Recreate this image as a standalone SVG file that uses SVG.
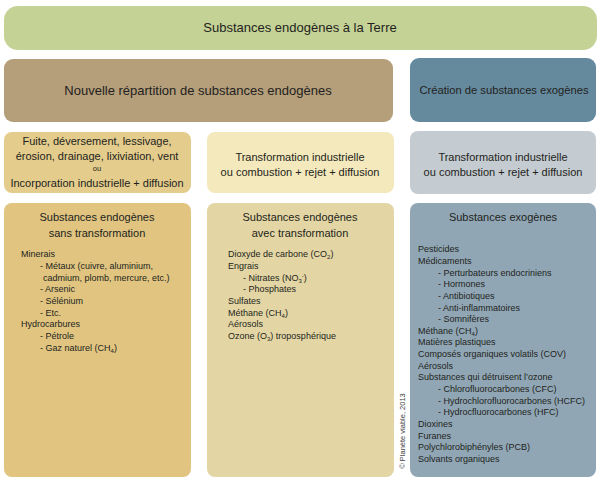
<svg xmlns="http://www.w3.org/2000/svg" width="600" height="483" viewBox="0 0 600 483">
<style>
text{font-family:"Liberation Sans",Arial,sans-serif;fill:#231f20}
.t{font-size:13px;text-anchor:middle}
.m{font-size:11px;text-anchor:middle}
.s{font-size:9px}
.sub{font-size:6px}
</style>
<rect width="600" height="483" fill="#ffffff"/>
<g id="top">
<rect x="4" y="6" width="593" height="44" rx="14" fill="#c5d296"/>
<text class="t" x="300" y="32">Substances endogènes à la Terre</text>
</g>
<g id="nouvelle">
<rect x="4" y="59" width="389" height="63" rx="9" fill="#b59e7a"/>
<text class="t" x="198" y="95">Nouvelle répartition de substances endogènes</text>
</g>
<g id="creation">
<rect x="410" y="58" width="186" height="64" rx="9" fill="#658a9e"/>
<text class="m" x="504" y="94" style="font-size:11.2px">Création de substances exogènes</text>
</g>
<g id="fuite">
<rect x="4" y="132" width="187" height="61" rx="8" fill="#e4cc8c"/>
<text class="m" x="97" y="145">Fuite, déversement, lessivage,</text>
<text class="m" x="97" y="160">érosion, drainage, lixiviation, vent</text>
<text class="m" x="97" y="171" style="font-size:7.5px">ou</text>
<text class="m" x="97" y="187">Incorporation industrielle + diffusion</text>
</g>
<g id="transfo1">
<rect x="207" y="132" width="187" height="61" rx="8" fill="#f4e9bc"/>
<text class="m" x="300" y="161">Transformation industrielle</text>
<text class="m" x="300" y="176">ou combustion + rejet + diffusion</text>
</g>
<g id="transfo2">
<rect x="410" y="131" width="186" height="63" rx="8" fill="#c4cbd1"/>
<text class="m" x="503" y="161">Transformation industrielle</text>
<text class="m" x="503" y="176">ou combustion + rejet + diffusion</text>
</g>
<g id="sans">
<rect x="4" y="203" width="187" height="274" rx="8" fill="#e0c480"/>
<text class="m" x="97" y="221">Substances endogènes</text>
<text class="m" x="97" y="237">sans transformation</text>
<text class="s" x="21" y="257">Minerais</text>
<text class="s" x="40" y="268.5">- Métaux (cuivre, aluminium,</text>
<text class="s" x="43" y="280.5">cadmium, plomb, mercure, etc.)</text>
<text class="s" x="40" y="292">- Arsenic</text>
<text class="s" x="40" y="303.5">- Sélénium</text>
<text class="s" x="40" y="315.5">- Etc.</text>
<text class="s" x="21" y="327">Hydrocarbures</text>
<text class="s" x="40" y="338.5">- Pétrole</text>
<text class="s" x="40" y="350.5">- Gaz naturel (CH<tspan class="sub" dy="2">4</tspan><tspan dy="-2">)</tspan></text>
</g>
<g id="avec">
<rect x="207" y="203" width="187" height="274" rx="8" fill="#e3d6a4"/>
<text class="m" x="300" y="221">Substances endogènes</text>
<text class="m" x="300" y="237">avec transformation</text>
<text class="s" x="228" y="257">Dioxyde de carbone (CO<tspan class="sub" dy="2">2</tspan><tspan dy="-2">)</tspan></text>
<text class="s" x="228" y="268.5">Engrais</text>
<text class="s" x="243" y="280.5">- Nitrates (NO<tspan class="sub" dy="2">3</tspan><tspan class="sub" dy="-5">-</tspan><tspan dy="3">)</tspan></text>
<text class="s" x="243" y="292">- Phosphates</text>
<text class="s" x="228" y="303.5">Sulfates</text>
<text class="s" x="228" y="315.5">Méthane (CH<tspan class="sub" dy="2">4</tspan><tspan dy="-2">)</tspan></text>
<text class="s" x="228" y="327">Aérosols</text>
<text class="s" x="228" y="339">Ozone (O<tspan class="sub" dy="2">3</tspan><tspan dy="-2">) troposphérique</tspan></text>
</g>
<g id="exogenes">
<rect x="410" y="203" width="186" height="274" rx="8" fill="#90a6b5"/>
<text class="m" x="503" y="221">Substances exogènes</text>
<text class="s" x="418" y="251.5">Pesticides</text>
<text class="s" x="418" y="263.5">Médicaments</text>
<text class="s" x="438" y="275.5">- Perturbateurs endocriniens</text>
<text class="s" x="438" y="286.5">- Hormones</text>
<text class="s" x="438" y="298.5">- Antibiotiques</text>
<text class="s" x="438" y="310.5">- Anti-inflammatoires</text>
<text class="s" x="438" y="321.5">- Somnifères</text>
<text class="s" x="418" y="333.5">Méthane (CH<tspan class="sub" dy="2">4</tspan><tspan dy="-2">)</tspan></text>
<text class="s" x="418" y="344.5">Matières plastiques</text>
<text class="s" x="418" y="356.5">Composés organiques volatils (COV)</text>
<text class="s" x="418" y="368.5">Aérosols</text>
<text class="s" x="418" y="379.5">Substances qui détruisent l’ozone</text>
<text class="s" x="438" y="391.5">- Chlorofluorocarbones (CFC)</text>
<text class="s" x="438" y="403.5">- Hydrochlorofluorocarbones (HCFC)</text>
<text class="s" x="438" y="414.5">- Hydrocfluorocarbones (HFC)</text>
<text class="s" x="418" y="426.5">Dioxines</text>
<text class="s" x="418" y="438.5">Furanes</text>
<text class="s" x="418" y="449.5">Polychlorobiphényles (PCB)</text>
<text class="s" x="418" y="461.5">Solvants organiques</text>
</g>
<text x="0" y="0" transform="translate(404.5,431) rotate(-90)" style="font-size:7.5px;text-anchor:middle;fill:#3a3a3a">© Planète viable, 2013</text>
</svg>
